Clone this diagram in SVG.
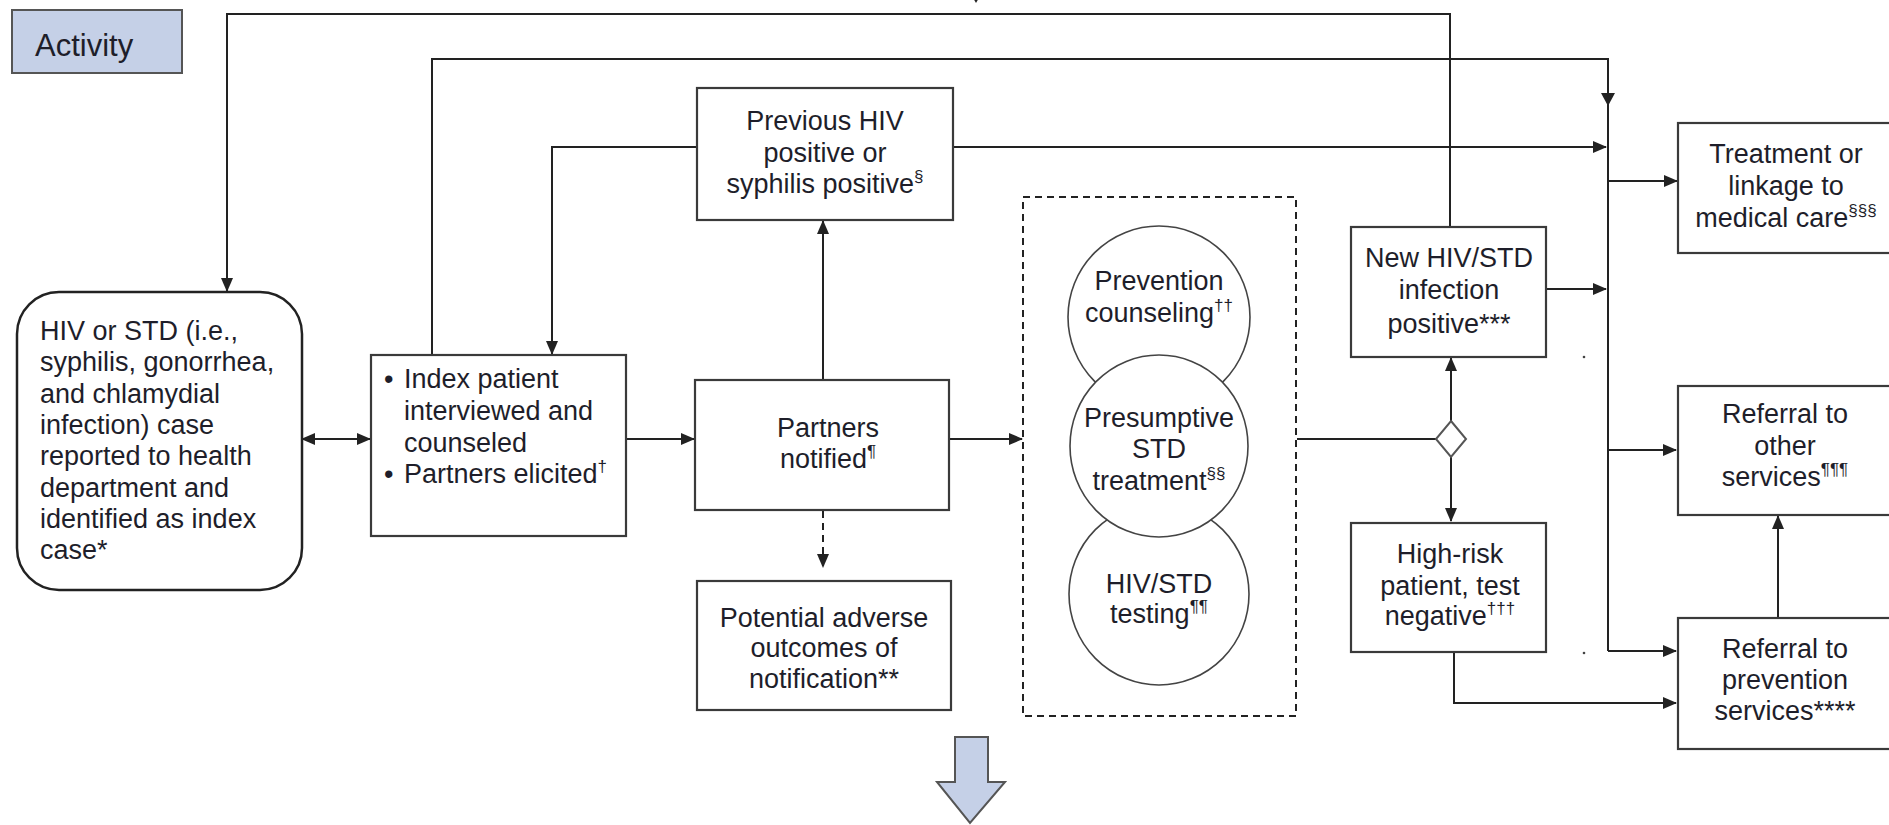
<svg xmlns="http://www.w3.org/2000/svg" width="1889" height="825" viewBox="0 0 1889 825">
<style>
  text { font-family: "Liberation Sans", Arial, sans-serif; font-size: 27px; fill: #1e1e2a; }
  .c { text-anchor: middle; }
  .sup { font-size: 17px; }
  .box { fill: #fff; stroke: #3a3a3a; stroke-width: 2.2; }
  .circ { fill: #fff; stroke: #444; stroke-width: 1.6; }
  .ln { fill: none; stroke: #222; stroke-width: 2; }
  .arr { marker-end: url(#ah); }
  .blue { fill: #c5d0e7; stroke: #555; stroke-width: 2; }
</style>
<defs>
  <marker id="ah" markerUnits="userSpaceOnUse" markerWidth="14" markerHeight="12" refX="13" refY="6" orient="auto">
    <path d="M0,0 L14,6 L0,12 Z" fill="#222"/>
  </marker>
  <marker id="ahs" markerUnits="userSpaceOnUse" markerWidth="14" markerHeight="12" refX="1" refY="6" orient="auto">
    <path d="M14,0 L0,6 L14,12 Z" fill="#222"/>
  </marker>
</defs>
<rect width="1889" height="825" fill="#fff"/>

<g id="legend-activity">
  <rect x="12" y="10" width="170" height="63" class="blue"/>
  <text x="35" y="56" style="font-size:31px">Activity</text>
</g>

<g id="connectors">
  <path d="M969,-9 L983,-9 L976,3 Z" fill="#222"/>
  <path class="ln arr" d="M1450,227 V14 H227 V291"/>
  <path class="ln" d="M432,355 V59 H1608 V651"/>
  <path d="M1601,93 L1615,93 L1608,106 Z" fill="#222"/>
  <path class="ln arr" d="M697,147 H552 V354"/>
  <path class="ln arr" d="M953,147 H1606"/>
  <path class="ln" d="M302,439 H370" marker-start="url(#ahs)" marker-end="url(#ah)"/>
  <path class="ln arr" d="M626,439 H694"/>
  <path class="ln arr" d="M823,380 V221"/>
  <path class="ln arr" d="M949,439 H1022"/>
  <path class="ln arr" d="M823,511 V567" stroke-dasharray="7,5"/>
  <path class="ln" d="M1297,439 H1436"/>
  <path class="ln arr" d="M1451,422 V358"/>
  <path class="ln arr" d="M1451,456 V521"/>
  <path class="ln arr" d="M1546,289 H1606"/>
  <path class="ln arr" d="M1608,181 H1677"/>
  <path class="ln arr" d="M1608,450 H1676"/>
  <path class="ln arr" d="M1608,651 H1676"/>
  <path class="ln arr" d="M1454,652 V703 H1676"/>
  <path class="ln arr" d="M1778,617 V516"/>
  <circle cx="1584" cy="357" r="1.3" fill="#444"/>
  <circle cx="1584" cy="653" r="1.3" fill="#444"/>
</g>

<g id="node-index-case">
  <rect x="17" y="292" width="285" height="298" rx="42" ry="42" fill="#fff" stroke="#222" stroke-width="2.5"/>
  <text x="40" y="340">HIV or STD (i.e.,</text>
  <text x="40" y="371">syphilis, gonorrhea,</text>
  <text x="40" y="403">and chlamydial</text>
  <text x="40" y="434">infection) case</text>
  <text x="40" y="465">reported to health</text>
  <text x="40" y="497">department and</text>
  <text x="40" y="528">identified as index</text>
  <text x="40" y="559">case*</text>
</g>

<g id="node-interview">
  <rect x="371" y="355" width="255" height="181" class="box"/>
  <text x="384" y="388">•</text>
  <text x="404" y="388">Index patient</text>
  <text x="404" y="420">interviewed and</text>
  <text x="404" y="452">counseled</text>
  <text x="384" y="483">•</text>
  <text x="404" y="483">Partners elicited<tspan class="sup" dy="-11">†</tspan></text>
</g>

<g id="node-previous">
  <rect x="697" y="88" width="256" height="132" class="box"/>
  <text x="825" y="130" class="c">Previous HIV</text>
  <text x="825" y="162" class="c">positive or</text>
  <text x="825" y="193" class="c">syphilis positive<tspan class="sup" dy="-11">§</tspan></text>
</g>

<g id="node-partners">
  <rect x="695" y="380" width="254" height="130" class="box"/>
  <text x="828" y="437" class="c">Partners</text>
  <text x="828" y="468" class="c">notified<tspan class="sup" dy="-11">¶</tspan></text>
</g>

<g id="node-adverse">
  <rect x="697" y="581" width="254" height="129" class="box"/>
  <text x="824" y="627" class="c">Potential adverse</text>
  <text x="824" y="657" class="c">outcomes of</text>
  <text x="824" y="688" class="c">notification**</text>
</g>

<g id="node-services-group">
  <rect x="1023" y="197" width="273" height="519" fill="none" stroke="#222" stroke-width="2" stroke-dasharray="7,5"/>
  <g id="node-prevention-counseling">
    <ellipse cx="1159" cy="317" rx="91" ry="91" class="circ"/>
    <text x="1159" y="290" class="c">Prevention</text>
    <text x="1159" y="322" class="c">counseling<tspan class="sup" dy="-11">††</tspan></text>
  </g>
  <g id="node-testing">
    <ellipse cx="1159" cy="594" rx="90" ry="91" class="circ"/>
    <text x="1159" y="593" class="c">HIV/STD</text>
    <text x="1159" y="623" class="c">testing<tspan class="sup" dy="-11">¶¶</tspan></text>
  </g>
  <g id="node-presumptive">
    <ellipse cx="1159" cy="446" rx="89" ry="91" class="circ"/>
    <text x="1159" y="427" class="c">Presumptive</text>
    <text x="1159" y="458" class="c">STD</text>
    <text x="1159" y="490" class="c">treatment<tspan class="sup" dy="-11">§§</tspan></text>
  </g>
</g>

<g id="node-decision">
  <path d="M1451,421 L1466,439 L1451,457 L1436,439 Z" fill="#fff" stroke="#555" stroke-width="2"/>
</g>

<g id="node-new-positive">
  <rect x="1351" y="227" width="195" height="130" class="box"/>
  <text x="1449" y="267" class="c">New HIV/STD</text>
  <text x="1449" y="299" class="c">infection</text>
  <text x="1449" y="333" class="c">positive***</text>
</g>

<g id="node-high-risk">
  <rect x="1351" y="523" width="195" height="129" class="box"/>
  <text x="1450" y="563" class="c">High-risk</text>
  <text x="1450" y="595" class="c">patient, test</text>
  <text x="1450" y="625" class="c">negative<tspan class="sup" dy="-11">†††</tspan></text>
</g>

<g id="node-treatment">
  <rect x="1678" y="123" width="230" height="130" class="box"/>
  <text x="1786" y="163" class="c">Treatment or</text>
  <text x="1786" y="195" class="c">linkage to</text>
  <text x="1786" y="227" class="c">medical care<tspan class="sup" dy="-11">§§§</tspan></text>
</g>

<g id="node-referral-other">
  <rect x="1678" y="386" width="230" height="129" class="box"/>
  <text x="1785" y="423" class="c">Referral to</text>
  <text x="1785" y="455" class="c">other</text>
  <text x="1785" y="486" class="c">services<tspan class="sup" dy="-11">¶¶¶</tspan></text>
</g>

<g id="node-referral-prevention">
  <rect x="1678" y="618" width="230" height="131" class="box"/>
  <text x="1785" y="658" class="c">Referral to</text>
  <text x="1785" y="689" class="c">prevention</text>
  <text x="1785" y="720" class="c">services****</text>
</g>

<g id="next-step-arrow">
  <path d="M955,737 H988 V782 H1005 L970,823 L937,782 H955 Z" class="blue"/>
</g>
</svg>
